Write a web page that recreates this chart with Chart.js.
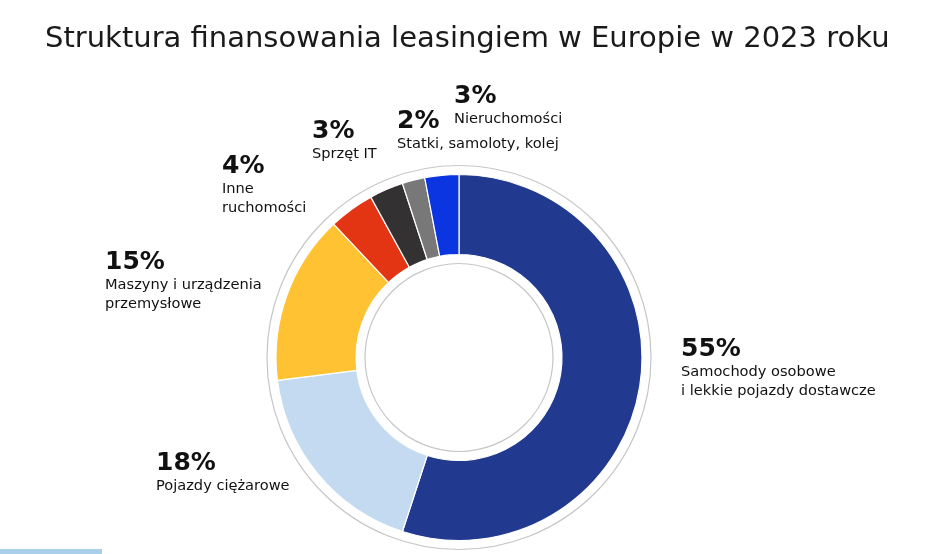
<!DOCTYPE html>
<html lang="pl">
<head>
<meta charset="utf-8">
<title>Struktura finansowania leasingiem w Europie w 2023 roku</title>
<script src="https://cdn.jsdelivr.net/npm/chart.js@4.4.1/dist/chart.umd.min.js"></script>
<style>
  html, body { margin: 0; padding: 0; background: #fff; }
  #wrap { position: relative; width: 948px; height: 554px; overflow: hidden; font-family: "DejaVu Sans", sans-serif; color: #111; }
  #chart { position: absolute; left: 0; top: 0; }
  #title { position: absolute; left: 45px; top: 19px; margin: 0; white-space: nowrap; font-size: 29px; line-height: 36px; font-weight: 400; color: #1a1a1a; }
  .lbl { position: absolute; white-space: nowrap; }
  .lbl .pct { font-size: 25px; line-height: 25px; font-weight: 700; }
  .lbl .name { font-size: 14.6px; line-height: 18.5px; margin-top: 2px; }
  #stripe { position: absolute; left: 0; top: 549px; width: 102px; height: 5px; background: #a9cfea; }
</style>
</head>
<body>
<div id="wrap">
  <canvas id="chart" width="948" height="554"></canvas>
  <h1 id="title">Struktura finansowania leasingiem w Europie w 2023 roku</h1>
  <div id="stripe"></div>
</div>
<script>
// data (share of leasing in %)
const categories = [
  "Samochody osobowe\ni lekkie pojazdy dostawcze",
  "Pojazdy ciężarowe",
  "Maszyny i urządzenia\nprzemysłowe",
  "Inne\nruchomości",
  "Sprzęt IT",
  "Statki, samoloty, kolej",
  "Nieruchomości"
];
const shares = [55, 18, 15, 4, 3, 2, 3];
const colors = ["#21398e", "#c4daf1", "#fec233", "#e33513", "#333131", "#787878", "#0a35e0"];

// where each label block sits (top-left of the percent text)
const labelAnchors = [[681, 335], [156, 449], [105, 248], [222, 152], [312, 117], [397, 107], [454, 82]];

const wrap = document.getElementById("wrap");
categories.forEach((name, i) => {
  const el = document.createElement("div");
  el.className = "lbl";
  el.style.left = labelAnchors[i][0] + "px";
  el.style.top = labelAnchors[i][1] + "px";
  const pct = document.createElement("div");
  pct.className = "pct";
  pct.textContent = shares[i] + "%";
  const txt = document.createElement("div");
  txt.className = "name";
  txt.innerHTML = name.split("\n").join("<br>");
  el.appendChild(pct);
  el.appendChild(txt);
  wrap.appendChild(el);
});

// thin grey circles outside and inside the ring
const rings = {
  id: "rings",
  afterDatasetsDraw(chart) {
    const arc = chart.getDatasetMeta(0).data[0];
    if (!arc) return;
    const { x, y, innerRadius, outerRadius } = arc.getProps(["x", "y", "innerRadius", "outerRadius"], true);
    const ctx = chart.ctx;
    ctx.save();
    ctx.strokeStyle = "#c6c6c6";
    ctx.lineWidth = 1.2;
    [outerRadius + 9, innerRadius - 9].forEach(r => {
      ctx.beginPath();
      ctx.arc(x, y, r, 0, Math.PI * 2);
      ctx.stroke();
    });
    ctx.restore();
  }
};

new Chart(document.getElementById("chart").getContext("2d"), {
  type: "doughnut",
  data: {
    labels: categories.map(c => c.replace("\n", " ")),
    datasets: [{
      data: shares,
      backgroundColor: colors,
      borderColor: "#ffffff",
      borderWidth: 1.2
    }]
  },
  options: {
    responsive: false,
    animation: false,
    radius: 183,
    cutout: 108,
    layout: { padding: { top: 165, bottom: 4, left: 260, right: 290 } },
    plugins: { legend: { display: false }, tooltip: { enabled: false } }
  },
  plugins: [rings]
});
</script>
</body>
</html>
